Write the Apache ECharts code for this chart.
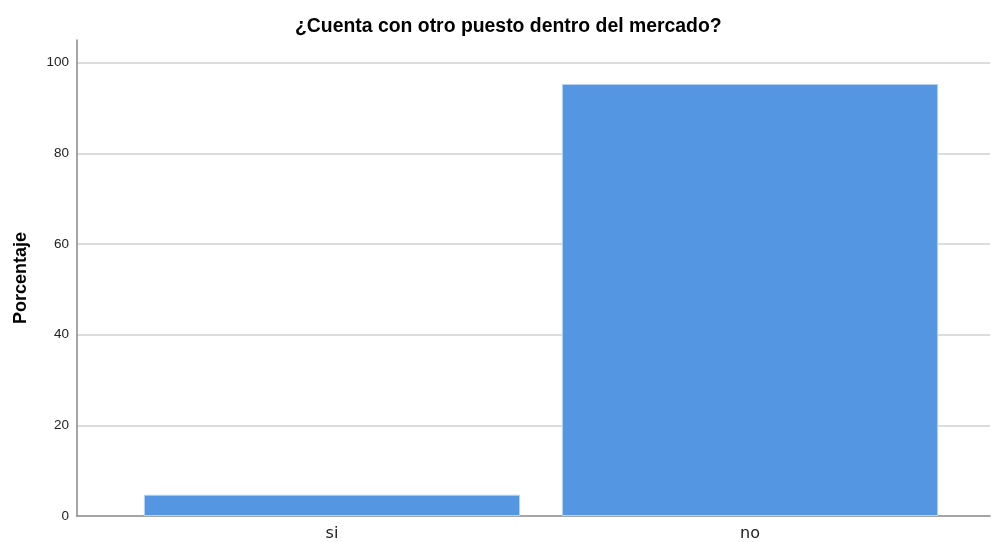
<!DOCTYPE html>
<html>
<head>
<meta charset="utf-8">
<script src="https://cdn.jsdelivr.net/npm/echarts@6/dist/echarts.min.js"></script>
<style>
html,body{margin:0;padding:0;background:#fff;}
#chart{width:991px;height:542px;}
</style>
</head>
<body>
<div id="chart"></div>
<script>
const categories = ['si', 'no'];
const percentValues = [4.7, 95.3];
const yTicks = [0, 20, 40, 60, 80, 100];

const chart = echarts.init(document.getElementById('chart'));
const font = 'Liberation Sans, Arial, sans-serif';
chart.setOption({
  animation: false,
  backgroundColor: '#ffffff',
  title: {
    text: '¿Cuenta con otro puesto dentro del mercado?',
    left: 290,
    top: 12,
    textStyle: { fontFamily: font, fontSize: 19.4, fontWeight: 'bold', color: '#000' }
  },
  grid: [
    { left: 77, right: 1, top: 40, bottom: 26 },
    { left: 123, right: 32, top: 40, bottom: 26 }
  ],
  xAxis: [
    {
      gridIndex: 0, type: 'category', data: [''],
      axisLine: { show: true, lineStyle: { color: '#888', width: 1.5 } },
      axisTick: { show: false }, axisLabel: { show: false }
    },
    {
      gridIndex: 1, type: 'category', data: categories,
      axisLine: { show: false }, axisTick: { show: false },
      axisLabel: { fontFamily: 'DejaVu Sans, sans-serif', fontSize: 16, color: '#222', margin: 10 }
    }
  ],
  yAxis: [
    {
      gridIndex: 0, type: 'value', min: 0, max: 105, interval: 20,
      name: 'Porcentaje', nameLocation: 'middle', nameGap: 47,
      nameTextStyle: { fontFamily: font, fontSize: 18, fontWeight: 'bold', color: '#000' },
      axisLine: { show: true, lineStyle: { color: '#888', width: 1.5 } },
      axisTick: { show: false },
      axisLabel: {
        fontFamily: font, fontSize: 13.5, color: '#222', margin: 8, showMaxLabel: false,
        formatter: v => (yTicks.indexOf(v) >= 0 ? String(v) : '')
      },
      splitLine: { show: true, showMaxLine: false, showMinLine: false, lineStyle: { color: '#d0d0d0', width: 1.5 } }
    },
    {
      gridIndex: 1, type: 'value', min: 0, max: 105, interval: 20, show: false,
      splitLine: { show: false }
    }
  ],
  series: [
    {
      type: 'bar', xAxisIndex: 1, yAxisIndex: 1,
      data: percentValues, barWidth: '90%',
      itemStyle: { color: '#5596e3', borderColor: '#b8d3f3', borderWidth: 1 }
    }
  ]
});
</script>
</body>
</html>
